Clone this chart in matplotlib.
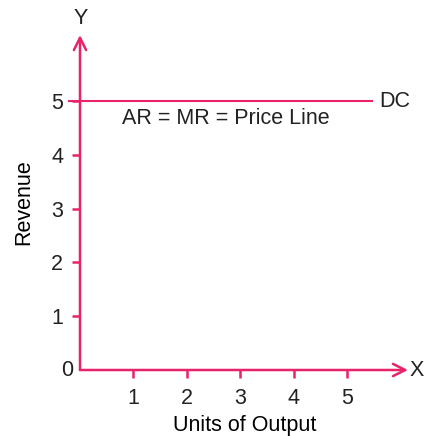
import matplotlib.pyplot as plt

plt.rcParams['font.family'] = ['Liberation Sans', 'DejaVu Sans']

pink = '#e8236a'
ink = '#222222'
fs = 15.5

x_ticks = [1, 2, 3, 4, 5]
y_ticks = [1, 2, 3, 4, 5]
price = 5
line_end = 5.47

fig = plt.figure(figsize=(4.29, 4.36), dpi=100)
ax = fig.add_axes([80 / 429, 66 / 436, 330 / 429, 335 / 436])
ax.set_xlim(0, 330 / 53.4)
ax.set_ylim(0, 335 / 53.8)

for s in ax.spines.values():
    s.set_visible(False)

# axes with arrow heads
ax.annotate('', xy=(328 / 53.4, 0), xytext=(0, 0),
            arrowprops=dict(arrowstyle='->', color=pink, lw=1.8,
                            mutation_scale=22, shrinkA=0, shrinkB=0),
            annotation_clip=False)
ax.annotate('', xy=(0, 335 / 53.8), xytext=(0, 0),
            arrowprops=dict(arrowstyle='->', color=pink, lw=1.8,
                            mutation_scale=22, shrinkA=0, shrinkB=0),
            annotation_clip=False)

ax.set_xticks(x_ticks)
ax.set_yticks(y_ticks)
ax.tick_params(colors=pink, labelcolor=ink, length=6, width=1.8,
               labelsize=fs, pad=7)
ax.tick_params(axis='y', pad=6)

# price line
ax.plot([-0.2, line_end], [price, price], color=pink, lw=1.5, clip_on=False)
ax.text(5.6, price, 'DC', fontsize=fs, va='center', ha='left', color=ink)
ax.text(2.73, 4.68, 'AR = MR = Price Line', fontsize=fs, ha='center',
        va='center', color=ink)

ax.text(-0.12, 0, '0', fontsize=fs, ha='right', va='center', color=ink)
ax.text(6.18, 0, 'X', fontsize=fs, ha='left', va='center', color=ink)
ax.text(-0.12, 6.53, 'Y', fontsize=fs, ha='left', va='center', color=ink,
        clip_on=False)

ax.set_xlabel('Units of Output', fontsize=fs, labelpad=4)
ax.set_ylabel('Revenue', fontsize=fs, labelpad=12)

fig.savefig('out.png', dpi=100)
